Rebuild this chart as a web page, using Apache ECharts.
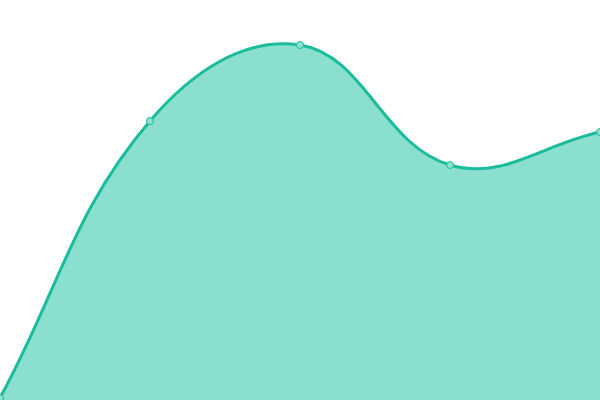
<!DOCTYPE html>
<html><head><meta charset="utf-8">
<script src="https://cdn.jsdelivr.net/npm/echarts@6/dist/echarts.min.js"></script>
<style>html,body{margin:0;padding:0;background:#fff}#c{width:600px;height:400px}</style>
</head><body><div id="c"></div>
<script>
const categories = ['A', 'B', 'C', 'D', 'E'];
const values = [0.5, 69.75, 88.75, 58.75, 67];
const tension = 0.4;

function splinePath(pts) {
  const cps = pts.map((cur, i) => {
    const prev = pts[i - 1] || cur;
    const next = pts[i + 1] || cur;
    const d01 = Math.hypot(cur[0] - prev[0], cur[1] - prev[1]);
    const d12 = Math.hypot(next[0] - cur[0], next[1] - cur[1]);
    const s = d01 + d12 || 1;
    const fa = tension * d01 / s, fb = tension * d12 / s;
    return {
      p: [cur[0] - fa * (next[0] - prev[0]), cur[1] - fa * (next[1] - prev[1])],
      n: [cur[0] + fb * (next[0] - prev[0]), cur[1] + fb * (next[1] - prev[1])]
    };
  });
  let d = 'M' + pts[0][0] + ' ' + pts[0][1];
  for (let i = 1; i < pts.length; i++) {
    const a = cps[i - 1].n, b = cps[i].p, c = pts[i];
    d += ' C' + a[0] + ' ' + a[1] + ' ' + b[0] + ' ' + b[1] + ' ' + c[0] + ' ' + c[1];
  }
  return d;
}

const chart = echarts.init(document.getElementById('c'));
chart.setOption({
  animation: false,
  grid: { left: 0, right: 0, top: 0, bottom: 0 },
  xAxis: { type: 'category', data: categories, boundaryGap: false, show: false },
  yAxis: { type: 'value', min: 0, max: 100, show: false },
  series: [{
    type: 'custom',
    clip: false,
    data: values.map((v, i) => [i, v]),
    renderItem: function (params, api) {
      if (params.dataIndex !== 0) return null;
      const pts = values.map((v, i) => api.coord([i, v]));
      const base = api.coord([0, 0])[1];
      const line = splinePath(pts);
      const area = line + ' L' + pts[pts.length - 1][0] + ' ' + base + ' L' + pts[0][0] + ' ' + base + ' Z';
      return {
        type: 'group',
        children: [
          { type: 'path', shape: { pathData: area }, style: { fill: '#8adfcf', stroke: null } },
          { type: 'path', shape: { pathData: line }, style: { fill: null, stroke: '#1abc9c', lineWidth: 3 } }
        ]
      };
    },
    z: 1
  }, {
    type: 'scatter',
    data: values,
    symbol: 'circle',
    symbolSize: 7,
    itemStyle: { color: '#8fe0d0', borderColor: '#1abc9c', borderWidth: 1, opacity: 1 },
    z: 2
  }]
});
</script></body></html>
